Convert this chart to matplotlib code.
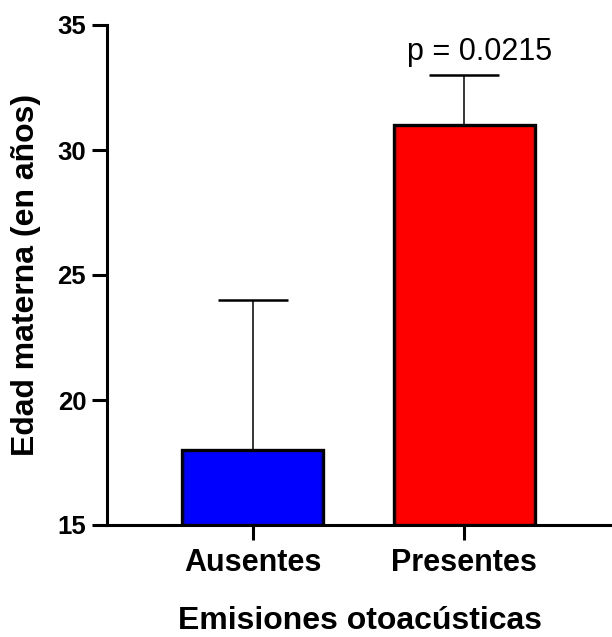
import matplotlib
matplotlib.use("Agg")
import matplotlib.pyplot as plt

plt.rcParams['font.family'] = ['Liberation Sans', 'DejaVu Sans']

# data
grupos = ['Ausentes', 'Presentes']
medias = [18, 31]
error_sup = [24, 33]
colores = ['#0000FF', '#FF0000']
p_texto = 'p = 0.0215'
base = 15

fig = plt.figure(figsize=(6.12, 6.37), dpi=100)
ax = fig.add_axes([107 / 612, 1 - 525 / 637, 1 - 107 / 612, 500 / 637])

x = list(range(len(grupos)))
alturas = [m - base for m in medias]
ax.bar(x, alturas, bottom=base, width=0.668, color=colores,
       edgecolor='black', linewidth=2.4, zorder=3)

# only the upper error bar is drawn
yerr = [[0] * len(medias), [e - m for e, m in zip(error_sup, medias)]]
ax.errorbar(x, medias, yerr=yerr, fmt='none', ecolor='black',
            elinewidth=1.1, capsize=25.5, capthick=1.8, zorder=2)

ax.text(1.072, 33.6, p_texto, ha='center', va='baseline', fontsize=22)

ax.set_xlim(-0.69, 1.70)
ax.set_ylim(15, 35)
ax.set_yticks([15, 20, 25, 30, 35])
ax.set_xticks(x)
ax.set_xticklabels(grupos)

for s in ['top', 'right']:
    ax.spines[s].set_visible(False)
for s in ['left', 'bottom']:
    ax.spines[s].set_linewidth(2.2)

ax.tick_params(axis='both', width=2.2, length=10.5)
ax.tick_params(axis='y', pad=4.5, labelsize=18.5)
ax.tick_params(axis='x', pad=6, labelsize=22)
for lab in ax.get_xticklabels() + ax.get_yticklabels():
    lab.set_fontweight('bold')

ax.set_xlabel('Emisiones otoacústicas', fontsize=23, fontweight='bold', labelpad=20)
ax.set_ylabel('Edad materna (en años)', fontsize=23, fontweight='bold', labelpad=12)

fig.savefig('out.png', dpi=100)
